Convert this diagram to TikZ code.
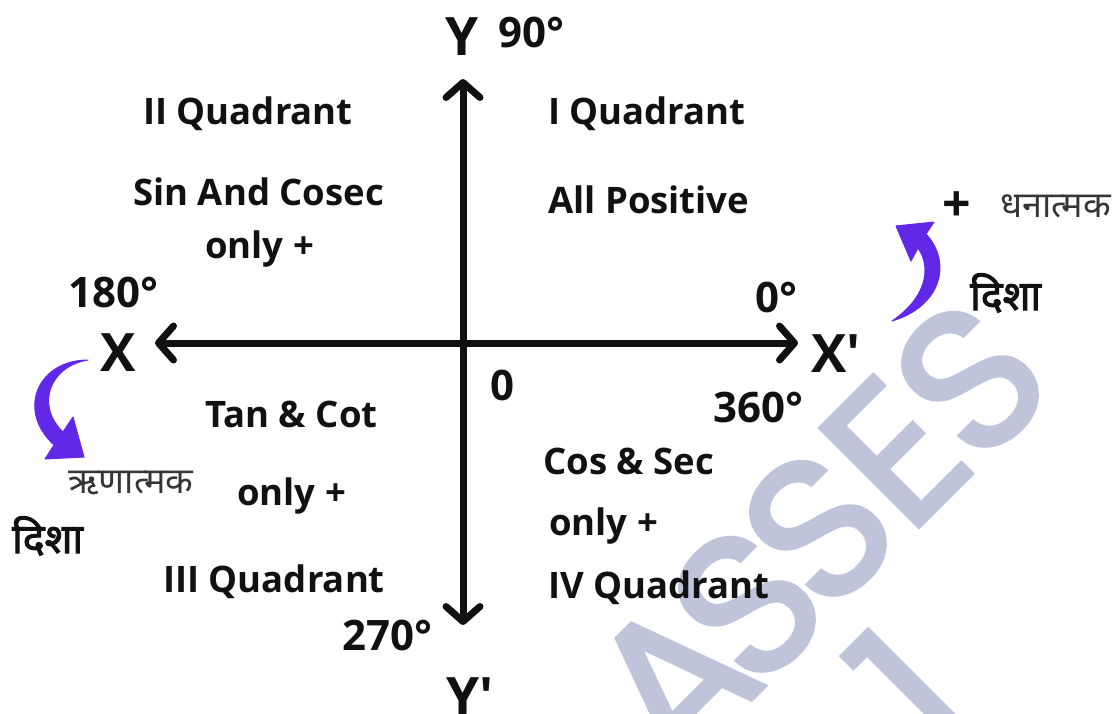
\documentclass[tikz,border=0pt]{standalone}
\usepackage{fontspec}
\setmainfont{Open Sans}
\newfontfamily\deva[Script=Devanagari]{Noto Sans}
\newfontfamily\devab[Script=Devanagari,FakeBold=2.5]{Noto Sans}
\newfontfamily\wmfont[FakeBold=2]{Poppins}
\usetikzlibrary{arrows.meta}
\definecolor{wmcol}{RGB}{192,196,218}
\definecolor{arrcol}{RGB}{98,40,232}
\definecolor{ink}{RGB}{17,17,17}
\tikzset{
  lbl/.style={font=\bfseries\fontsize{36.5}{36.5}\selectfont, text=ink, inner sep=0pt, anchor=base west},
  deg/.style={font=\bfseries\fontsize{42}{42}\selectfont, text=ink, inner sep=0pt, anchor=base west},
  axl/.style={font=\bfseries\fontsize{53}{53}\selectfont, text=ink, inner sep=0pt, anchor=base west},
  hin/.style={font=\deva\fontsize{36}{36}\selectfont, text=ink!85, inner sep=0pt, anchor=base west},
  hinb/.style={font=\devab\fontsize{41}{41}\selectfont, text=ink, inner sep=0pt, anchor=base west},
  wm/.style={font=\wmfont\fontsize{200}{200}\selectfont, text=wmcol, inner sep=0pt, rotate=45},
  axis/.style={line width=7pt, draw=ink, {Straight Barb[length=15pt,width=34pt,line width=7pt,round]}-{Straight Barb[length=15pt,width=34pt,line width=7pt,round]}},
  curl/.style={fill=arrcol, draw=arrcol, line width=1pt, line join=round}
}
\begin{document}
\begin{tikzpicture}[x=1pt,y=-1pt]
\useasboundingbox (0,0) rectangle (1118,713);
\fill[white] (0,0) rectangle (1118,713);
% watermark
\begin{scope}
\clip (0,0) rectangle (1118,713);
\node[wm] (wa) at (673,680) {A};
\node[wm] (ws1) at (747,604) {S};
\node[wm] (ws2) at (818,528) {S};
\node[wm] (we) at (895,452) {E};
\node[wm] (ws3) at (970,379) {S};
\node[wm] (wz) at (818,784) {0};
\node[wm] (wo) at (910,690) {1};
\end{scope}
% axes
\coordinate (xl) at (155,343);
\coordinate (xr) at (798,343);
\coordinate (yt) at (463,79);
\coordinate (yb) at (463,625);
\draw[axis] (xl) -- (xr);
\draw[axis] (yb) -- (yt);
% axis labels
\node[axl] (Y) at (445,55) {Y};
\node[deg] (d90) at (498,47) {90°};
\node[deg] (d180) at (68,307) {180°};
\node[axl] (X) at (100,371) {X};
\node[deg] (d0) at (755,312) {0°};
\node[axl] (Xp) at (811,372) {X\textquotesingle};
\node[deg] (d360) at (713,422) {360°};
\node[deg] (zero) at (490,400) {0};
\node[deg] (d270) at (342,650) {270°};
\node[axl] (Yp) at (446,715) {Y\textquotesingle};
% quadrant texts
\node[lbl] (q2) at (143,124) {II Quadrant};
\node[lbl] (q1) at (548,124) {I Quadrant};
\node[lbl] (q2a) at (133,205) {Sin And Cosec};
\node[lbl] (q2b) at (205,258) {only +};
\node[lbl] (q1a) at (548,213) {All Positive};
\node[lbl] (q3a) at (205,427) {Tan \& Cot};
\node[lbl] (q3b) at (237,505) {only +};
\node[lbl] (q3) at (163,592) {III Quadrant};
\node[lbl] (q4a) at (543,474) {Cos \& Sec};
\node[lbl] (q4b) at (549,535) {only +};
\node[lbl] (q4) at (548,598) {IV Quadrant};
% hindi labels
\node[font=\bfseries\fontsize{50}{50}\selectfont, text=ink, inner sep=0pt] (plus) at (957,207) {+};
\node[hin] (dhan) at (1000,217) {धनात्मक};
\node[hinb] (disha1) at (970,310) {दिशा};
\node[hin] (rin) at (68,493) {ऋणात्मक};
\node[hinb] (disha2) at (12,553) {दिशा};
% curved arrows
\fill[curl] (892,321) .. controls (942,306) and (952,262) .. (926,234) -- (934,222) -- (896,226) -- (911,261) -- (918,248) .. controls (932,268) and (926,298) .. (892,321) -- cycle;
\fill[curl] (88,360) .. controls (38,360) and (16,410) .. (54,445) -- (45,459) -- (84,457) -- (73,417) -- (63,432) .. controls (35,405) and (50,366) .. (88,360) -- cycle;
\end{tikzpicture}
\end{document}
